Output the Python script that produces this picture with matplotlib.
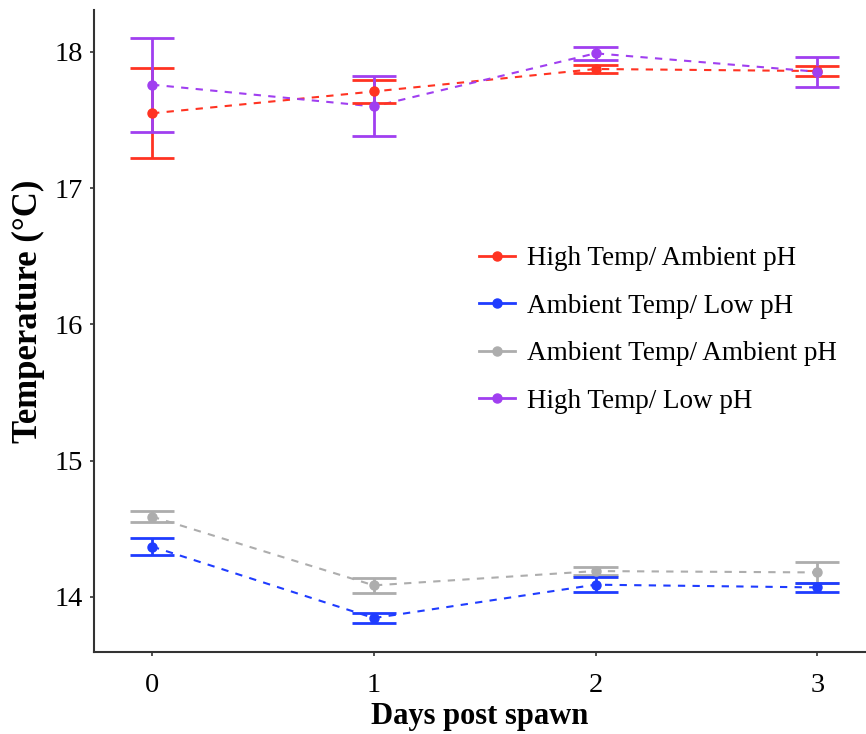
import numpy as np
import matplotlib.pyplot as plt

plt.rcParams['font.family'] = ['Liberation Serif', 'DejaVu Serif']

days = [0, 1, 2, 3]
tick_labels = ['0', '1', '2', '3']

# mean temperature and error half-width per treatment
groups = ['High Temp/ Ambient pH', 'Ambient Temp/ Low pH',
          'Ambient Temp/ Ambient pH', 'High Temp/ Low pH']
hi_amb_mean = [17.55, 17.71, 17.875, 17.86]
hi_amb_err = [0.33, 0.085, 0.03, 0.04]
amb_low_mean = [14.37, 13.845, 14.09, 14.07]
amb_low_err = [0.06, 0.035, 0.055, 0.03]
amb_amb_mean = [14.59, 14.085, 14.19, 14.18]
amb_amb_err = [0.04, 0.055, 0.03, 0.08]
hi_low_mean = [17.76, 17.60, 17.99, 17.855]
hi_low_err = [0.345, 0.22, 0.05, 0.11]

colors = {
    'High Temp/ Ambient pH': '#FF3322',
    'Ambient Temp/ Low pH': '#1F3CFF',
    'Ambient Temp/ Ambient pH': '#ADADAD',
    'High Temp/ Low pH': '#A03FF0',
}
series = {
    'High Temp/ Ambient pH': (hi_amb_mean, hi_amb_err),
    'Ambient Temp/ Low pH': (amb_low_mean, amb_low_err),
    'Ambient Temp/ Ambient pH': (amb_amb_mean, amb_amb_err),
    'High Temp/ Low pH': (hi_low_mean, hi_low_err),
}
draw_order = ['Ambient Temp/ Ambient pH', 'Ambient Temp/ Low pH',
              'High Temp/ Ambient pH', 'High Temp/ Low pH']

fig = plt.figure(figsize=(8.66, 7.34), dpi=100)
ax = fig.add_axes([94 / 866, 82 / 734, 1 - 94 / 866, 642 / 734])

cap = 0.1
handles = {}
for name in draw_order:
    mean, err = series[name]
    x = np.array(days, dtype=float)
    m = np.array(mean)
    e = np.array(err)
    c = colors[name]
    ax.plot(x, m, linestyle=(0, (3.5, 3.5)), lw=1.5, color=c, zorder=2)
    ax.vlines(x, m - e, m + e, color=c, lw=2, zorder=3)
    ax.hlines(m - e, x - cap, x + cap, color=c, lw=2, zorder=3)
    ax.hlines(m + e, x - cap, x + cap, color=c, lw=2, zorder=3)
    ax.plot(x, m, 'o', ms=6.5, color=c, zorder=4)
    handles[name], = ax.plot([], [], '-o', lw=2, ms=6.5, color=c)

ax.set_xlim(-0.262, 3.22)
ax.set_ylim(13.596, 18.308)
ax.set_xticks(days)
ax.set_xticklabels(tick_labels)
ax.set_yticks([14, 15, 16, 17, 18])

for side in ['top', 'right']:
    ax.spines[side].set_visible(False)
for side in ['left', 'bottom']:
    ax.spines[side].set_color('#333333')
    ax.spines[side].set_linewidth(1.5)
ax.tick_params(length=3, width=1.2, color='#333333', labelsize=20.5,
               labelcolor='black')
ax.tick_params(axis='x', pad=12)
ax.tick_params(axis='y', pad=5)

ax.set_xlabel('Days post spawn', fontsize=22, fontweight='bold', labelpad=3)
ax.set_ylabel('Temperature (°C)', fontsize=25, fontweight='bold')
ax.yaxis.set_label_coords(-0.064, 0.53)

leg = ax.legend([handles[g] for g in groups], groups, loc='upper left',
                bbox_to_anchor=(455 / 866, 1 - 222 / 734),
                bbox_transform=fig.transFigure, frameon=False,
                fontsize=19.5, handlelength=1.3, handletextpad=0.45,
                labelspacing=0.83)

fig.savefig('out.png', dpi=100)
